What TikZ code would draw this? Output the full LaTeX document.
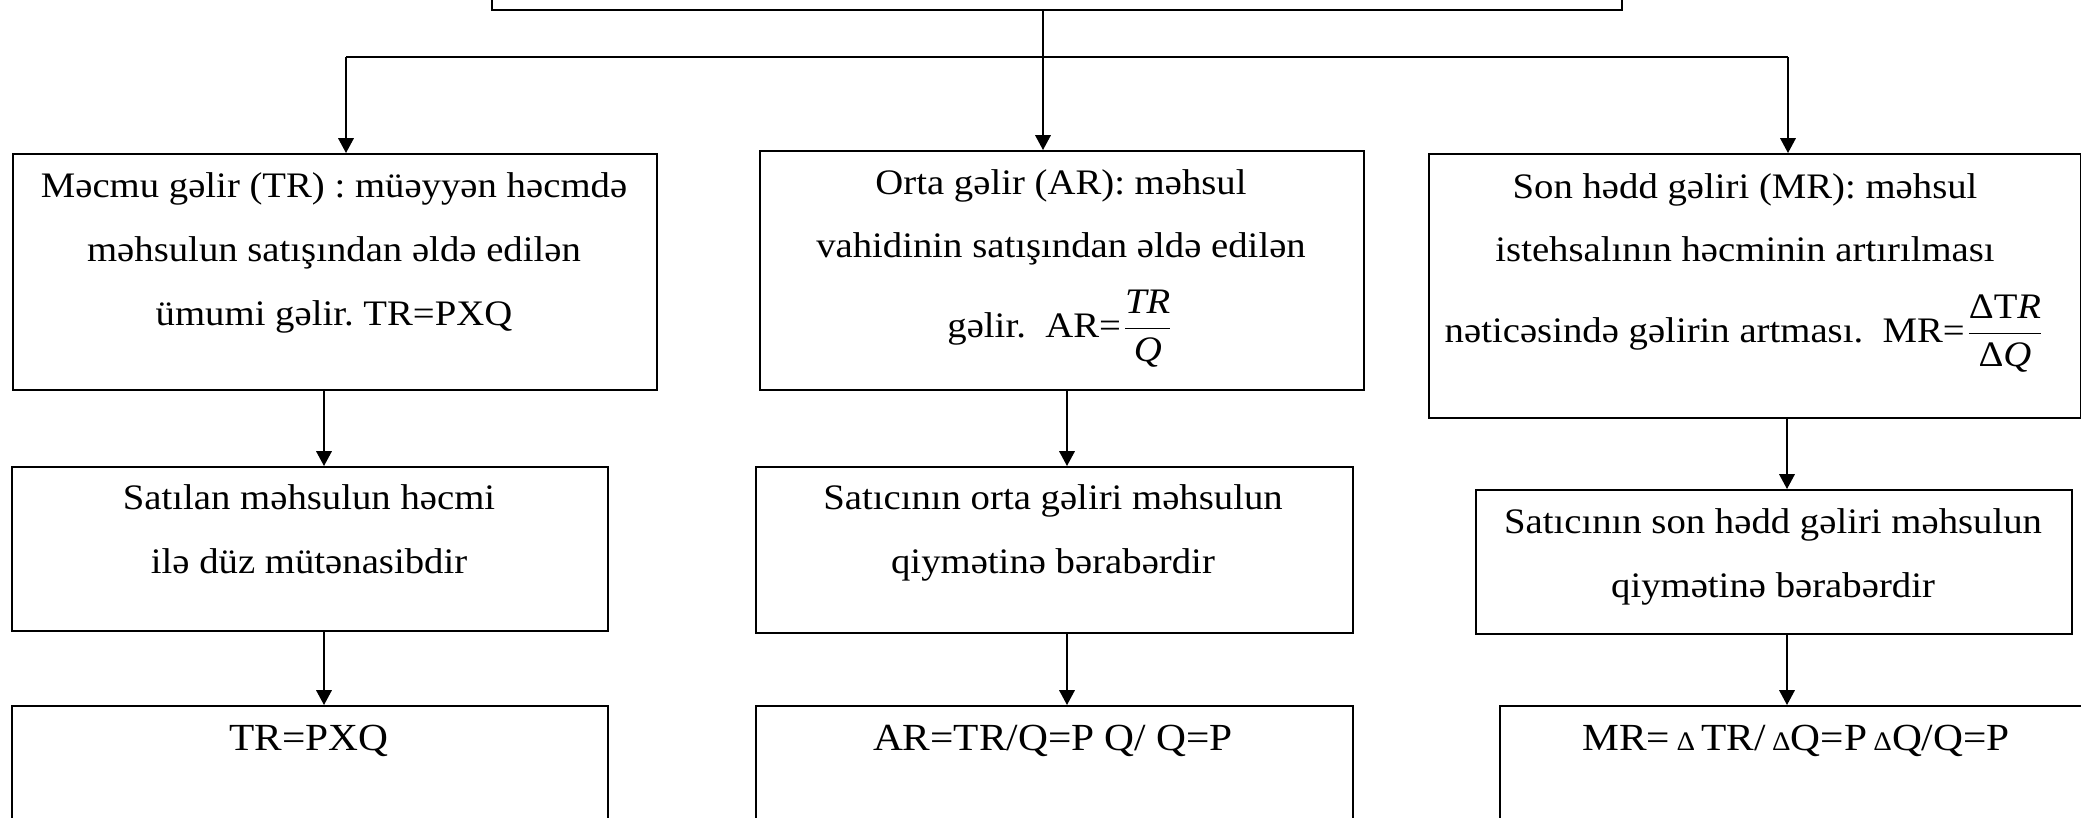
\documentclass[tikz,border=0pt]{standalone}
\usepackage{amsmath}
\usepackage{fontspec}
\setmainfont{Liberation Serif}[FakeStretch=1.08]
\frenchspacing
\usetikzlibrary{arrows.meta,positioning}
\tikzset{
  box/.style={draw,line width=0.6pt,anchor=north west,inner sep=0pt},
  boxtext/.style={anchor=base,align=center,inner sep=0pt,
    font=\fontsize{10.2pt}{18.07pt}\selectfont},
  formula/.style={boxtext,font=\fontsize{10.9pt}{18.07pt}\selectfont},
  flowarrow/.style={-{Triangle[length=4.2pt,width=4.4pt]},line width=0.45pt},
  flowline/.style={line width=0.45pt}
}
\newcommand{\smalldelta}{{\fontsize{7.6pt}{7pt}\selectfont Δ}}

\begin{document}
\begin{tikzpicture}[x=0.01cm,y=-0.01cm]
\path[use as bounding box] (0,0) rectangle (2081,818);
\clip (0,0) rectangle (2081,818);
% top box, only its lower edge is in the picture
\node[box,minimum width=11.29cm,minimum height=0.8cm] (revenue) at (491,-71) {};
% first row
\node[box,minimum width=6.44cm,minimum height=2.36cm] (mecmu) at (12,153) {};
\node[box,minimum width=6.04cm,minimum height=2.39cm] (orta) at (759,150) {};
\node[box,minimum width=6.52cm,minimum height=2.64cm] (son) at (1428,153) {};
\node[boxtext] (mecmu-t) at (334,325) {Məcmu gəlir (TR) : müəyyən həcmdə\\məhsulun satışından əldə edilən\\ümumi gəlir. TR=PXQ};
\node[boxtext] (orta-t) at (1061,337) {Orta gəlir (AR): məhsul\\vahidinin satışından əldə edilən\\[0.155cm]gəlir.\ \ AR=\(\dfrac{\textit{TR}}{\textit{Q}}\)};
\node[boxtext] (son-t) at (1745,342) {Son hədd gəliri (MR): məhsul\\istehsalının həcminin artırılması\\[0.165cm]nəticəsində gəlirin artması.\ \ MR=\(\dfrac{\textup{ΔT}\textit{R}}{\textup{Δ}\textit{Q}}\)};
% second row
\node[box,minimum width=5.96cm,minimum height=1.64cm] (hecm) at (11,466) {};
\node[box,minimum width=5.97cm,minimum height=1.66cm] (ortaq) at (755,466) {};
\node[box,minimum width=5.96cm,minimum height=1.44cm] (sonq) at (1475,489) {};
\node[boxtext] (hecm-t) at (309,573) {Satılan məhsulun həcmi\\ilə düz mütənasibdir};
\node[boxtext] (ortaq-t) at (1053,573) {Satıcının orta gəliri məhsulun\\qiymətinə bərabərdir};
\node[boxtext] (sonq-t) at (1773,597) {Satıcının son hədd gəliri məhsulun\\qiymətinə bərabərdir};
% third row
\node[box,minimum width=5.96cm,minimum height=2cm] (tr) at (11,705) {};
\node[box,minimum width=5.97cm,minimum height=2cm] (ar) at (755,705) {};
\node[box,minimum width=6cm,minimum height=2cm] (mr) at (1499,705) {};
\node[formula] (tr-t) at (309,750) {TR=PXQ};
\node[formula] (ar-t) at (1053,750) {AR=TR/Q=P Q/ Q=P};
\node[formula] (mr-t) at (1796,750) {MR=\,\smalldelta\,TR/\,\smalldelta Q=P\,\smalldelta Q/Q=P};
% connectors
\coordinate (hub) at (1043,57);
\coordinate (busL) at (346,57);
\coordinate (busR) at (1788,57);
\coordinate (colL) at (324,0);
\coordinate (colM) at (1067,0);
\coordinate (colR) at (1787,0);
\draw[flowline] (revenue.south -| hub) -- (hub);
\draw[flowline] (busL) -- (busR);
\draw[flowarrow] (hub) -- (hub |- orta.north);
\draw[flowarrow] (busL) -- (busL |- mecmu.north);
\draw[flowarrow] (busR) -- (busR |- son.north);
\draw[flowarrow] (colL |- mecmu.south) -- (colL |- hecm.north);
\draw[flowarrow] (colM |- orta.south) -- (colM |- ortaq.north);
\draw[flowarrow] (colR |- son.south) -- (colR |- sonq.north);
\draw[flowarrow] (colL |- hecm.south) -- (colL |- tr.north);
\draw[flowarrow] (colM |- ortaq.south) -- (colM |- ar.north);
\draw[flowarrow] (colR |- sonq.south) -- (colR |- mr.north);
\end{tikzpicture}
\end{document}
